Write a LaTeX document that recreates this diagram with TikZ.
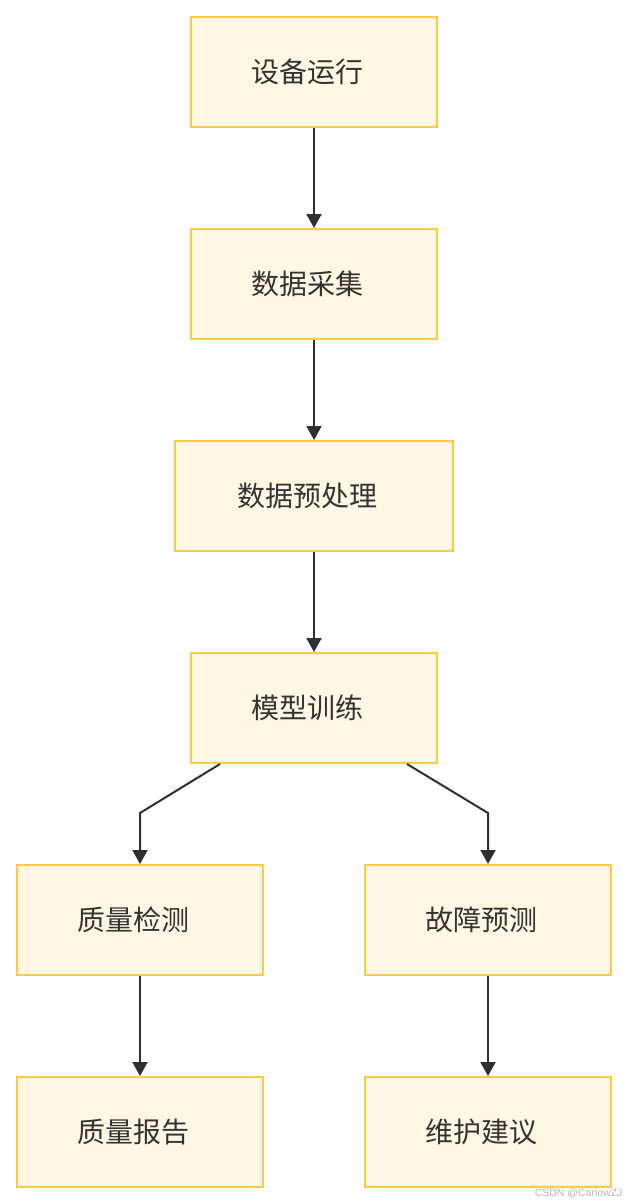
\documentclass[tikz,border=0pt]{standalone}
\usepackage{fontspec}
\newfontfamily\cjk{Noto Sans CJK SC}
\newfontfamily\wm{Liberation Sans}
\usetikzlibrary{arrows.meta,calc}
\definecolor{boxfill}{HTML}{FFF6E4}
\definecolor{boxline}{HTML}{FCC94A}
\definecolor{txt}{HTML}{333333}
\definecolor{edge}{HTML}{2E2E33}
\tikzset{
  box/.style={draw=boxline, line width=2pt, fill=boxfill, minimum width=246pt, minimum height=110pt, inner sep=0pt, font=\cjk\fontsize{28}{32}\selectfont, text=txt},
  wide/.style={box, minimum width=278pt},
  lbl/.style={xshift=-7pt},
  conn/.style={draw=edge, line width=2pt, -{Triangle[width=15pt,length=14pt]}}
}
\begin{document}
\begin{tikzpicture}[x=1pt,y=-1pt]
\useasboundingbox (0,0) rectangle (628,1204);
\node[box] (a) at (314,72) {\hspace*{-14pt}设备运行};
\node[box] (b) at (314,284) {\hspace*{-14pt}数据采集};
\node[wide] (c) at (314,496) {\hspace*{-14pt}数据预处理};
\node[box] (d) at (314,708) {\hspace*{-14pt}模型训练};
\node[box] (e) at (140,920) {\hspace*{-14pt}质量检测};
\node[box] (f) at (488,920) {\hspace*{-14pt}故障预测};
\node[box] (g) at (140,1132) {\hspace*{-14pt}质量报告};
\node[box] (h) at (488,1132) {\hspace*{-14pt}维护建议};
\coordinate (bl) at (140,813);
\coordinate (br) at (488,813);
\draw[conn] (a) -- (b);
\draw[conn] (b) -- (c);
\draw[conn] (c) -- (d);
\draw[conn] ([xshift=-94pt]d.south) -- (bl) -- (e);
\draw[conn] ([xshift=93pt]d.south) -- (br) -- (f);
\draw[conn] (e) -- (g);
\draw[conn] (f) -- (h);
\node[font=\wm\fontsize{10.5}{12}\selectfont, text=black!30, anchor=east] (w) at (626,1193) {CSDN @CarlowZJ};
\end{tikzpicture}
\end{document}
